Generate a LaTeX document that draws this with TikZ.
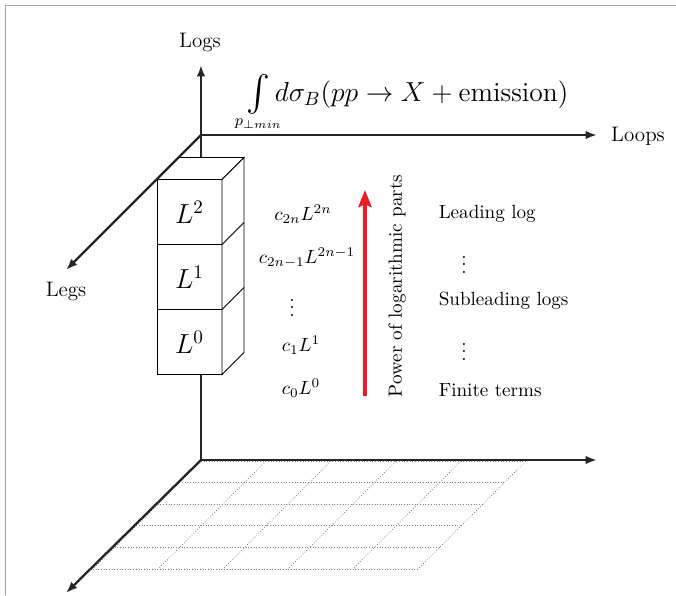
\documentclass[tikz,border=0pt]{standalone}
\usepackage{mathtools}
\usetikzlibrary{arrows.meta,positioning}
\definecolor{powred}{RGB}{237,28,36}

\begin{document}
\begin{tikzpicture}[
  x=0.523pt,
  y=-0.523pt,
  axis/.style={line width=1.2pt, black!85, -{Latex[length=6pt,width=4.5pt]}},
  mesh/.style={gray, densely dotted, line width=0.4pt},
  cube/.style={
    draw,
    fill=white,
    line width=0.5pt,
    minimum size=34pt,
    inner sep=0pt,
    outer sep=0pt,
    font=\Large
  },
  axlabel/.style={font=\fontsize{11}{13}\selectfont},
  term/.style={anchor=west},
  dots/.style={inner sep=0pt}
]
  \useasboundingbox (0,0) rectangle (676,595);
  \draw[gray!70, line width=0.5pt] (5,595) -- (5,5) -- (676,5);

  % floor grid
  \foreach \i in {0,...,5}
    \draw[mesh] (201-21.6*\i,461+21.6*\i) -- (526-21.6*\i,461+21.6*\i);
  \foreach \j in {0,...,5}
    \draw[mesh] (201+65*\j,461) -- (93+65*\j,569);

  \coordinate (top) at (201,135);
  \coordinate (base) at (201,460);
  \coordinate (logstip) at (201,65);
  \coordinate (loopstip) at (597,135);
  \coordinate (legstip) at (66,270);
  \coordinate (floorx) at (597,460);
  \coordinate (floory) at (66,593);

  \draw[axis] (base) -- (logstip);

  % stack of powers
  \node[cube] (l2) at (189.5,212) {$L^2$};
  \node[cube,below=0pt of l2] (l1) {$L^1$};
  \node[cube,below=0pt of l1] (l0) {$L^0$};
  \filldraw[fill=white, line width=0.5pt] (l2.north west) -- ++(22,-22) -- ++(65,0)
    -- (l2.north east) -- cycle;
  \filldraw[fill=white, line width=0.5pt] (l2.north east) -- ++(22,-22) -- ++(0,195)
    -- (l0.south east) -- cycle;
  \draw[line width=0.5pt] (l1.north east) -- ++(22,-22);
  \draw[line width=0.5pt] (l0.north east) -- ++(22,-22);

  \draw[axis] (top) -- (loopstip);
  \draw[axis] (top) -- (legstip);
  \draw[axis] (base) -- (floorx);
  \draw[axis] (base) -- (floory);

  \node[axlabel] (logs) at (200,42) {Logs};
  \node[axlabel] (loops) at (638,136) {Loops};
  \node[axlabel] (legs) at (66,291) {Legs};

  \node[anchor=base west, inner sep=0pt] (xsec) at (246,101)
    {\Large $\mathop{\vcenter{\hbox{\scalebox{1.3}{$\int$}}}}\limits_{\mathclap{\smash{\raisebox{2.5pt}{\footnotesize$p_{\perp min}$}}}}
      d\sigma_B(pp\to X+\text{emission})$};

  % expansion in powers of L
  \node (c2n) at (303,214) {$c_{2n}L^{2n}$};
  \node (c2nm) at (307,258) {$c_{2n-1}L^{2n-1}$};
  \node[dots] (cdots) at (292,302) {$\vdots$};
  \node (c1) at (301,345) {$c_1L^1$};
  \node (c0) at (301,388) {$c_0L^0$};

  \coordinate (powlow) at (365,396);
  \coordinate (powhigh) at (365,190);
  \draw[powred, line width=1.6pt, -{Stealth[length=9pt,width=7pt,inset=1.5pt]}]
    (powlow) -- (powhigh);
  \node[rotate=90] (power) at (397,286) {Power of logarithmic parts};

  \node[term] (lead) at (432,214) {Leading log};
  \node[dots] (ldots) at (464,259) {$\vdots$};
  \node[term] (sub) at (432,301) {Subleading logs};
  \node[dots] (sdots) at (464,346) {$\vdots$};
  \node[term] (fin) at (432,390) {Finite terms};
\end{tikzpicture}
\end{document}
